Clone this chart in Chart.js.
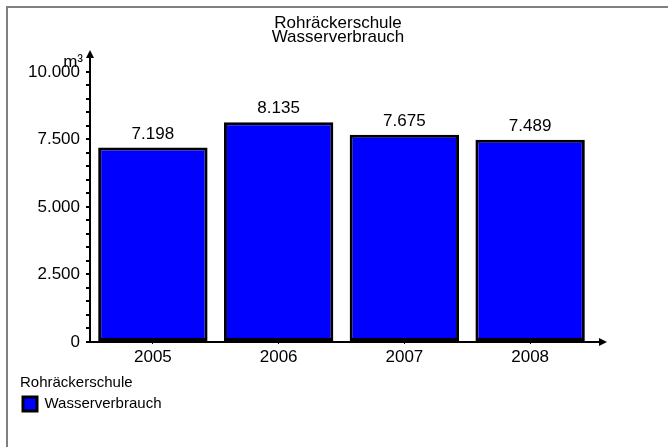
<!DOCTYPE html>
<html lang="de">
<head>
<meta charset="utf-8">
<title>Rohräckerschule Wasserverbrauch</title>
<script src="https://cdn.jsdelivr.net/npm/chart.js@4/dist/chart.umd.min.js"></script>
<style>
  body { margin: 0; background: #fff; }
  #wrap { position: relative; width: 668px; height: 447px; overflow: hidden; }
  #rahmen {
    position: absolute; left: 6px; top: 6px; width: 700px; height: 500px;
    border-top: 2px solid #808080; border-left: 2px solid #808080;
  }
  #grafico { position: absolute; left: 0; top: 0; }
</style>
</head>
<body>
<div id="wrap">
  <div id="rahmen"></div>
  <canvas id="grafico" width="668" height="447"></canvas>
</div>
<script>
const jahre = ["2005", "2006", "2007", "2008"];
const verbrauch = [7198, 8135, 7675, 7489];
const schule = "Rohräckerschule";
const reihe = "Wasserverbrauch";
const einheit = "m³";
const yMax = 10000;
const ySchritt = 2500;

const fonte = '"Liberation Sans", Arial, sans-serif';

// 7198 -> "7.198"
function formatar(v) {
  return String(v).replace(/\B(?=(\d{3})+(?!\d))/g, ".");
}

// Pfeile an den Achsen, Einheit und Werte über den Balken
const extras = {
  id: "extras",
  afterDatasetsDraw(chart) {
    const { ctx } = chart;
    const meta = chart.getDatasetMeta(0);
    ctx.save();
    ctx.fillStyle = "#000";
    ctx.font = "17px " + fonte;
    ctx.textAlign = "center";
    ctx.textBaseline = "alphabetic";
    meta.data.forEach((bar, i) => {
      ctx.fillText(formatar(verbrauch[i]), bar.x, bar.y - 9);
    });
    ctx.restore();
  },
  afterDraw(chart) {
    const { ctx, chartArea } = chart;
    const x0 = chart.scales.y.right;
    const y0 = chart.scales.x.top;
    ctx.save();
    ctx.strokeStyle = "#000";
    ctx.fillStyle = "#000";
    ctx.lineWidth = 2;

    // y-Achse nach oben verlängern
    ctx.beginPath();
    ctx.moveTo(x0, chartArea.top);
    ctx.lineTo(x0, 56);
    ctx.stroke();
    ctx.beginPath();
    ctx.moveTo(x0, 50);
    ctx.lineTo(x0 - 4, 58);
    ctx.lineTo(x0 + 4, 58);
    ctx.closePath();
    ctx.fill();

    // x-Achse nach rechts verlängern
    ctx.beginPath();
    ctx.moveTo(chartArea.right, y0);
    ctx.lineTo(600, y0);
    ctx.stroke();
    ctx.beginPath();
    ctx.moveTo(607, y0);
    ctx.lineTo(599, y0 - 4);
    ctx.lineTo(599, y0 + 4);
    ctx.closePath();
    ctx.fill();

    ctx.font = "17px " + fonte;
    ctx.textAlign = "right";
    ctx.fillText(einheit, 83, 62);
    ctx.restore();
  }
};

const ctx = document.getElementById("grafico").getContext("2d");

new Chart(ctx, {
  type: "bar",
  data: {
    labels: jahre,
    datasets: [{
      label: reihe,
      data: verbrauch,
      backgroundColor: "#0000ff",
      borderColor: "#000",
      borderWidth: 3,
      borderSkipped: false,
      barPercentage: 0.87,
      categoryPercentage: 1,
    }],
  },
  options: {
    responsive: false,
    animation: false,
    layout: { padding: { left: 20, right: 12, top: 0, bottom: 25.6 } },
    plugins: {
      title: {
        display: true,
        text: [schule, reihe],
        color: "#000",
        font: { family: fonte, size: 17, weight: "normal", lineHeight: 0.85 },
        padding: { top: 16, bottom: 27 },
      },
      legend: {
        position: "bottom",
        align: "start",
        title: {
          display: true,
          text: schule,
          position: "start",
          color: "#000",
          font: { family: fonte, size: 15 },
          padding: { top: 5, bottom: 0 },
        },
        labels: {
          boxWidth: 14,
          boxHeight: 14,
          padding: 3,
          color: "#000",
          font: { family: fonte, size: 15 },
        },
      },
      tooltip: { enabled: false },
    },
    scales: {
      x: {
        grid: { display: true, offset: false, drawOnChartArea: false, tickLength: 2, color: "#000" },
        border: { display: true, color: "#000", width: 2 },
        ticks: { color: "#000", padding: 3, font: { family: fonte, size: 17 } },
      },
      y: {
        min: 0,
        max: yMax,
        grid: { display: true, drawOnChartArea: false, tickLength: 4, color: "#000", lineWidth: 2 },
        border: { display: true, color: "#000", width: 2 },
        ticks: {
          stepSize: 500,
          autoSkip: false,
          padding: 6,
          color: "#000",
          font: { family: fonte, size: 17 },
          callback: (v) => (v % ySchritt === 0 ? formatar(v) : ""),
        },
        afterFit: (s) => { s.width = 70; },
      },
      rechts: {
        type: "linear",
        position: "right",
        display: true,
        grid: { display: false, drawTicks: false },
        border: { display: false },
        ticks: { display: false },
        afterFit: (s) => { s.width = 63; },
      },
    },
  },
  plugins: [extras],
});
</script>
</body>
</html>
